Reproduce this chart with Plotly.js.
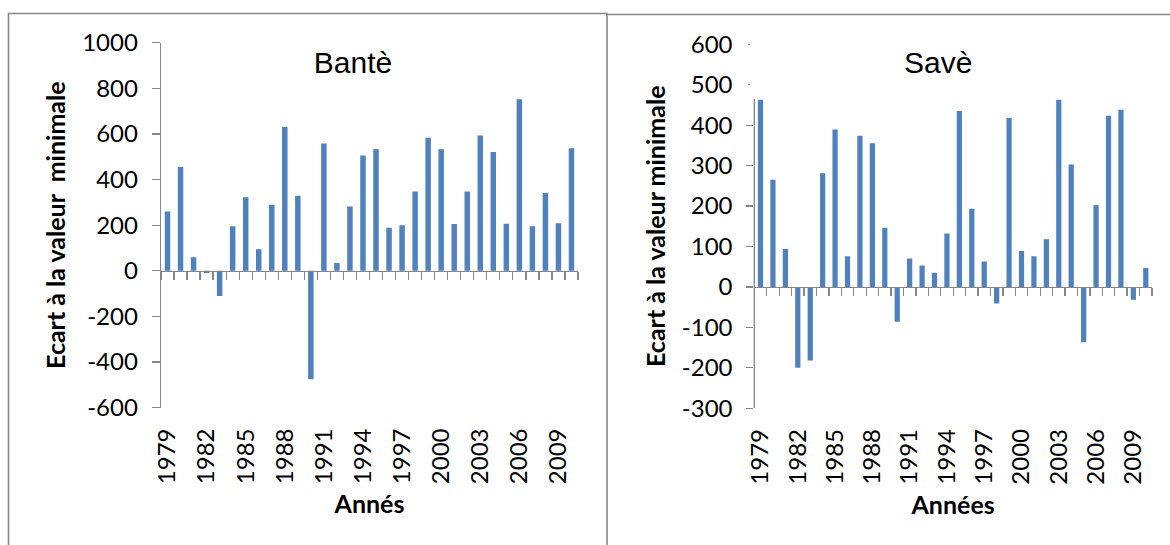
<!DOCTYPE html>
<html><head><meta charset="utf-8">
<script src="https://cdn.plot.ly/plotly-3.0.1.min.js"></script>
<style>html,body{margin:0;padding:0;background:#fff}#chart{width:1170px;height:545px}</style>
</head><body><div id="chart"></div><script>
// ---- data ----
const years = [1979,1980,1981,1982,1983,1984,1985,1986,1987,1988,1989,1990,1991,1992,1993,1994,
               1995,1996,1997,1998,1999,2000,2001,2002,2003,2004,2005,2006,2007,2008,2009,2010];
const yearLabels = ["1979","1982","1985","1988","1991","1994","1997","2000","2003","2006","2009"];
const banteValues = [260,455,60,-10,-110,195,322,95,290,631,329,-475,558,34,282,505,
                     533,189,200,348,583,533,205,348,593,521,206,752,195,341,209,537];
const saveValues  = [463,265,94,-200,-182,281,389,76,374,355,146,-86,70,53,35,132,
                     435,193,63,-41,418,89,76,118,463,303,-137,202,423,438,-32,47];
const banteYTicks = [-600,-400,-200,0,200,400,600,800,1000];
const saveYTicks  = [-300,-200,-100,0,100,200,300,400,500,600];
const banteTitle = "Bantè", saveTitle = "Savè";
const banteXTitle = "Annés", saveXTitle = "Années";
const banteYTitle = "Ecart à la valeur\u00a0 minimale", saveYTitle = "Ecart à la valeur minimale";

// ---- styles / geometry ----
const W = 1170, H = 545;
const px = v => v / W, py = v => 1 - v / H;
const gray = '#868686', blue = '#4F81BD';
const lato = 'Lato, Carlito, Calibri, sans-serif';
const tickFont = {family: lato, size: 24, color: '#000'};
const axTitleFont = {family: lato, size: 25, color: '#000', weight: 700};
const mainTitleFont = {family: '"Liberation Sans", Arial, sans-serif', size: 30, color: '#000'};
const boundaries = years.map(y => y - 0.5).concat([years[years.length - 1] + 0.5]);
const xr = [years[0] - 0.5, years[years.length - 1] + 0.5];
const labelYears = yearLabels.map(Number);
const zeroPos = (d, r) => d[0] + (d[1] - d[0]) * (0 - r[0]) / (r[1] - r[0]);
const L = {xd: [px(161), px(578)], yd: [py(407.7), py(42.7)], yr: [-600, 1000]};
const R = {xd: [px(754.3), px(1152)], yd: [py(408.2), py(44.3)], yr: [-300, 600]};
const saveAxisTop = 465;

const barStyle = {color: blue, line: {width: 0}};
const traces = [
  {type: 'bar', x: years, y: banteValues, xaxis: 'x', yaxis: 'y', marker: barStyle, name: banteTitle},
  {type: 'scatter', x: [], y: [], xaxis: 'x2', yaxis: 'y', showlegend: false},
  {type: 'bar', x: years, y: saveValues, xaxis: 'x3', yaxis: 'y2', marker: barStyle, name: saveTitle},
  {type: 'scatter', x: [], y: [], xaxis: 'x4', yaxis: 'y2', showlegend: false},
  {type: 'scatter', x: [], y: [], xaxis: 'x3', yaxis: 'y3', showlegend: false},
  {type: 'scatter', x: [], y: [], xaxis: 'x3', yaxis: 'y4', showlegend: false}
];

function tickAxis(P) {
  return {domain: P.xd, range: xr, anchor: 'free', position: zeroPos(P.yd, P.yr),
    showline: true, linecolor: gray, linewidth: 1.3, ticks: 'outside', tickmode: 'array',
    tickvals: boundaries, ticklen: 8, tickcolor: gray, tickwidth: 1.3,
    showticklabels: false, showgrid: false, zeroline: false, fixedrange: true};
}
function labelAxis(over, yAnchor, title) {
  return {range: xr, overlaying: over, anchor: yAnchor, side: 'bottom', tickmode: 'array',
    tickvals: labelYears, ticktext: yearLabels, tickangle: -90, ticks: '', ticklabelstandoff: 15,
    showline: false, showgrid: false, zeroline: false, tickfont: tickFont, fixedrange: true,
    title: {text: title, font: axTitleFont, standoff: 12}};
}

const layout = {
  width: W, height: H, margin: {l: 0, r: 0, t: 0, b: 0}, showlegend: false,
  paper_bgcolor: '#fff', plot_bgcolor: 'rgba(0,0,0,0)', bargap: 0.58,
  title: {text: banteTitle, font: mainTitleFont, xref: 'paper', yref: 'paper',
          x: px(353), xanchor: 'center', y: py(62), yanchor: 'middle'},
  xaxis: tickAxis(L),
  xaxis2: labelAxis('x', 'y', banteXTitle),
  yaxis: {domain: L.yd, range: L.yr, anchor: 'x', tickmode: 'array', tickvals: banteYTicks,
    ticktext: banteYTicks.map(String),
    showline: true, linecolor: gray, linewidth: 1.3, ticks: 'outside', ticklen: 8, tickcolor: gray,
    tickwidth: 1.3, ticklabelstandoff: 9, showgrid: false, zeroline: false, tickfont: tickFont,
    fixedrange: true, title: {text: banteYTitle, font: axTitleFont, standoff: 9}},
  xaxis3: tickAxis(R),
  xaxis4: labelAxis('x3', 'y2', saveXTitle),
  yaxis2: {domain: R.yd, range: R.yr, anchor: 'x3', tickmode: 'array', tickvals: saveYTicks,
    ticktext: saveYTicks.map(String),
    showline: false, ticks: 'outside', ticklen: 7, tickcolor: 'rgba(0,0,0,0)', ticklabelstandoff: 9,
    showgrid: false, zeroline: false, tickfont: tickFont, fixedrange: true,
    title: {text: saveYTitle, font: axTitleFont, standoff: 9}},
  yaxis3: {overlaying: 'y2', anchor: 'x3', range: R.yr, tickmode: 'array',
    tickvals: saveYTicks.filter(v => v <= saveAxisTop), ticks: 'outside', ticklen: 7,
    tickcolor: gray, tickwidth: 1.3, showticklabels: false, showline: false,
    showgrid: false, zeroline: false, fixedrange: true},
  yaxis4: {overlaying: 'y2', anchor: 'free', position: px(749.5), range: R.yr, tickmode: 'array',
    tickvals: saveYTicks.filter(v => v > saveAxisTop), ticks: 'outside', ticklen: 2,
    tickcolor: gray, tickwidth: 1.3, showticklabels: false, showline: false,
    showgrid: false, zeroline: false, fixedrange: true},
  annotations: [
    {text: saveTitle, font: mainTitleFont, xref: 'paper', yref: 'paper', x: px(938), y: py(62),
     xanchor: 'center', yanchor: 'middle', showarrow: false}
  ],
  shapes: [
    {type: 'path', xref: 'paper', yref: 'paper',
     path: `M ${px(8.5)} ${py(545)} L ${px(8.5)} ${py(13.5)} L ${px(607)} ${py(13.5)} L ${px(607)} ${py(545)}`,
     line: {color: gray, width: 1.6}},
    {type: 'line', xref: 'paper', yref: 'paper', x0: px(607), x1: px(1170), y0: py(14.5), y1: py(14.5),
     line: {color: gray, width: 1.6}},
    {type: 'line', xref: 'paper', yref: 'y2', x0: R.xd[0], x1: R.xd[0], y0: R.yr[0], y1: saveAxisTop,
     line: {color: gray, width: 1.3}}
  ]
};
Plotly.newPlot('chart', traces, layout, {displayModeBar: false, staticPlot: true});
</script></body></html>
